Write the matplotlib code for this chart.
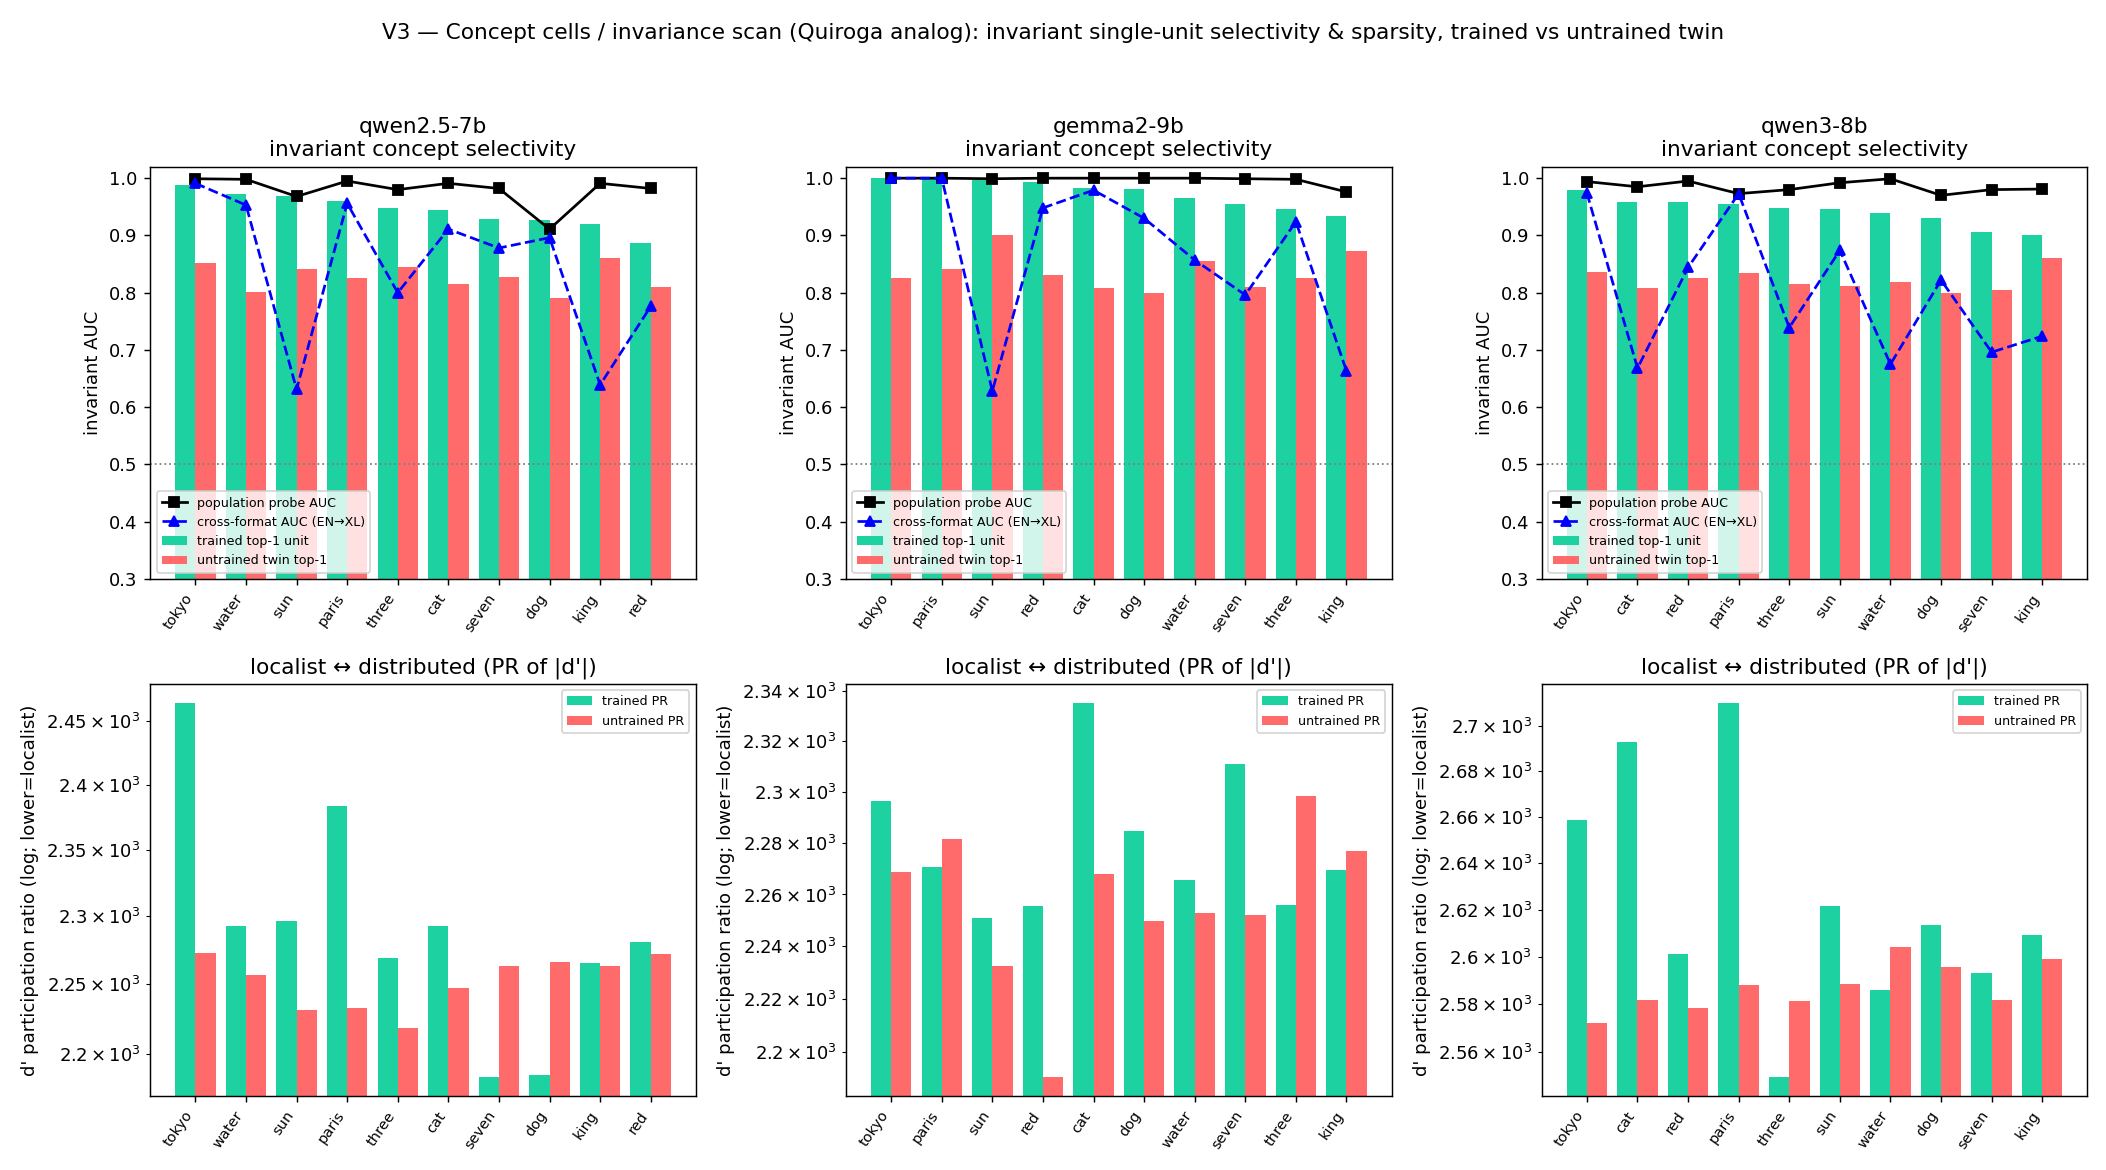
import matplotlib
matplotlib.use("Agg")
import matplotlib.pyplot as plt
import numpy as np

# model names and concepts (ordered by trained top-1 AUC per model)
models = ["qwen2.5-7b", "gemma2-9b", "qwen3-8b"]
concepts = [
    ["tokyo", "water", "sun", "paris", "three", "cat", "seven", "dog", "king", "red"],
    ["tokyo", "paris", "sun", "red", "cat", "dog", "water", "seven", "three", "king"],
    ["tokyo", "cat", "red", "paris", "three", "sun", "water", "dog", "seven", "king"],
]

# invariant AUC values
trained_auc = [
    [0.988, 0.973, 0.969, 0.960, 0.948, 0.945, 0.929, 0.927, 0.920, 0.887],
    [1.000, 1.000, 0.998, 0.994, 0.983, 0.981, 0.966, 0.955, 0.946, 0.934],
    [0.980, 0.959, 0.959, 0.955, 0.948, 0.946, 0.939, 0.931, 0.906, 0.901],
]
untrained_auc = [
    [0.852, 0.801, 0.842, 0.826, 0.845, 0.815, 0.828, 0.791, 0.861, 0.810],
    [0.826, 0.842, 0.901, 0.831, 0.808, 0.800, 0.856, 0.810, 0.826, 0.873],
    [0.836, 0.808, 0.826, 0.835, 0.815, 0.812, 0.819, 0.800, 0.805, 0.861],
]
population_auc = [
    [0.999, 0.998, 0.968, 0.995, 0.980, 0.991, 0.982, 0.911, 0.991, 0.982],
    [1.000, 1.000, 0.999, 1.000, 1.000, 1.000, 1.000, 0.999, 0.998, 0.976],
    [0.994, 0.985, 0.995, 0.973, 0.980, 0.992, 0.999, 0.970, 0.980, 0.981],
]
crossformat_auc = [
    [0.991, 0.953, 0.631, 0.956, 0.800, 0.911, 0.878, 0.896, 0.639, 0.776],
    [1.000, 1.000, 0.628, 0.948, 0.979, 0.930, 0.857, 0.796, 0.924, 0.663],
    [0.974, 0.668, 0.844, 0.973, 0.739, 0.874, 0.675, 0.822, 0.696, 0.724],
]

# participation ratio of |d'| per concept
trained_pr = [
    [2464.5, 2292.4, 2296.1, 2383.8, 2268.8, 2292.4, 2183.2, 2185.1, 2265.2, 2280.6],
    [2296.6, 2270.8, 2251.1, 2255.7, 2335.4, 2284.8, 2265.8, 2311.1, 2256.1, 2269.3],
    [2659.0, 2693.1, 2601.0, 2710.3, 2549.3, 2621.9, 2585.8, 2613.4, 2593.0, 2609.5],
]
untrained_pr = [
    [2272.5, 2256.4, 2231.0, 2232.5, 2218.1, 2246.9, 2263.0, 2265.9, 2263.0, 2271.8],
    [2268.9, 2281.7, 2232.7, 2190.4, 2268.1, 2249.6, 2253.0, 2251.9, 2298.5, 2277.0],
    [2571.9, 2581.6, 2578.2, 2587.9, 2581.1, 2588.3, 2604.4, 2595.9, 2581.6, 2598.9],
]

GREEN = "#1dd1a1"
RED = "#ff6b6b"

fig, axes = plt.subplots(2, 3, figsize=(16.2, 9), dpi=130)
fig.suptitle("V3 \u2014 Concept cells / invariance scan (Quiroga analog): invariant single-unit "
             "selectivity & sparsity, trained vs untrained twin", fontsize=12)

w = 0.4
for j, model in enumerate(models):
    x = np.arange(len(concepts[j]))

    # top row: AUCs
    ax = axes[0, j]
    ax.bar(x - w / 2, trained_auc[j], w, color=GREEN, label="trained top-1 unit")
    ax.bar(x + w / 2, untrained_auc[j], w, color=RED, label="untrained twin top-1")
    ax.plot(x, population_auc[j], "s-", color="black", label="population probe AUC")
    ax.plot(x, crossformat_auc[j], "^--", color="blue", label="cross-format AUC (EN\u2192XL)")
    ax.axhline(0.5, color="gray", ls=":", lw=1)
    ax.set_ylim(0.3, 1.02)
    ax.set_xticks(x)
    ax.set_xticklabels(concepts[j], rotation=55, ha="right", fontsize=8)
    ax.set_ylabel("invariant AUC")
    ax.set_title(model + "\ninvariant concept selectivity")
    ax.legend(loc="lower left", fontsize=7)

    # bottom row: participation ratio (log)
    ax = axes[1, j]
    ax.bar(x - w / 2, trained_pr[j], w, color=GREEN, label="trained PR")
    ax.bar(x + w / 2, untrained_pr[j], w, color=RED, label="untrained PR")
    ax.set_yscale("log")
    ax.set_xticks(x)
    ax.set_xticklabels(concepts[j], rotation=55, ha="right", fontsize=8)
    ax.set_ylabel("d' participation ratio (log; lower=localist)")
    ax.set_title("localist \u2194 distributed (PR of |d'|)")
    ax.legend(loc="upper right", fontsize=7)

plt.subplots_adjust(left=0.0714, right=0.9911, top=0.8575, bottom=0.0632,
                    wspace=0.2757, hspace=0.255)
plt.savefig("out.png")
